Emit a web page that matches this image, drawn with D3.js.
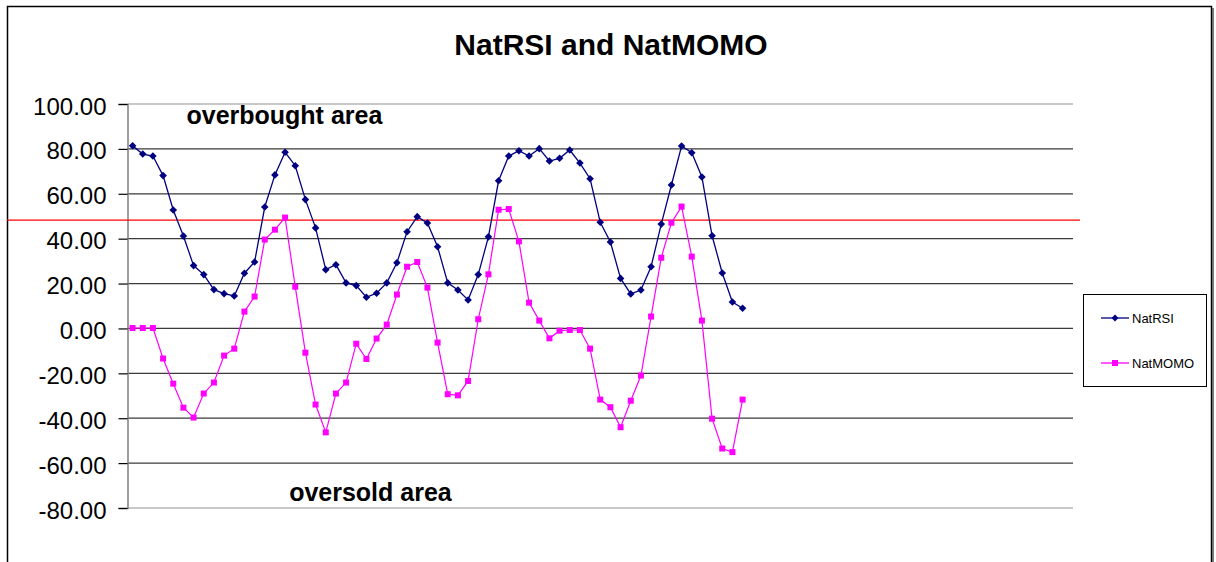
<!DOCTYPE html>
<html>
<head>
<meta charset="utf-8">
<script src="https://cdn.jsdelivr.net/npm/d3@7"></script>
<style>
  html, body { margin: 0; padding: 0; background: #fff; }
  svg { display: block; font-family: "Liberation Sans", Arial, sans-serif; }
</style>
</head>
<body>
<svg id="chart" width="1216" height="562"></svg>
<script>
// ---- data ----
const title = "NatRSI and NatMOMO";
const seriesNames = ["NatRSI", "NatMOMO"];
const categoryCount = 93; // category slots on the x axis (only first 61 filled)
const natRSI = [81.4, 77.7, 76.8, 68.1, 52.8, 41.2, 28.0, 24.0, 17.3, 15.5,
  14.5, 24.6, 29.6, 54.1, 68.4, 78.5, 72.5, 57.4, 44.8, 26.2,
  28.4, 20.3, 19.1, 13.9, 15.7, 20.3, 29.3, 43.1, 49.8, 47.0,
  36.4, 20.3, 17.1, 12.7, 24.0, 40.8, 65.8, 76.8, 79.2, 76.8,
  80.1, 74.6, 75.8, 79.5, 73.7, 66.7, 47.3, 38.5, 22.3, 15.4,
  17.1, 27.5, 46.5, 63.9, 81.3, 78.3, 67.5, 41.3, 24.7, 11.8, 9.0];
const natMOMO = [0.2, 0.2, 0.2, -13.4, -24.6, -35.3, -39.7, -29.0, -24.1, -12.1,
  -9.0, 7.5, 14.2, 39.6, 44.0, 49.4, 18.6, -10.8, -33.9, -46.3,
  -29.0, -24.1, -6.8, -13.6, -4.5, 1.7, 15.1, 27.5, 29.6, 18.2,
  -6.3, -29.3, -29.8, -23.4, 4.1, 24.1, 52.9, 53.2, 38.8, 11.5,
  3.5, -4.4, -1.0, -0.7, -0.7, -9.0, -31.7, -35.1, -44.0, -32.2,
  -21.0, 5.3, 31.5, 47.1, 54.3, 32.0, 3.5, -40.2, -53.5, -55.1, -31.7];
const yTicks = [100, 80, 60, 40, 20, 0, -20, -40, -60, -80];
const referenceLevel = 48.3;
const annotations = [
  { text: "overbought area", value: 91.1, cat: 5.8 },
  { text: "oversold area", value: -77.0, cat: 15.9 }
];

// ---- layout ----
const svg = d3.select("#chart");
const plot = { left: 127.5, right: 1073, top: 104, bottom: 508 };
const colors = { NatRSI: "#000080", NatMOMO: "#ff00ff" };

// outer chart border
svg.append("rect").attr("x", 7.5).attr("y", 6.5).attr("width", 1204).attr("height", 600)
  .attr("fill", "#fff").attr("stroke", "#000").attr("stroke-width", 1.5);
svg.append("line").attr("x1", 1213).attr("x2", 1213).attr("y1", 8).attr("y2", 562)
  .attr("stroke", "#555").attr("stroke-width", 1.5);

const x = d3.scaleBand().domain(d3.range(categoryCount)).range([plot.left, plot.right]);
const cx = i => x(i) + x.bandwidth() / 2;
const y = d3.scaleLinear().domain([-80, 100]).range([plot.bottom, plot.top]);

// gridlines
svg.append("g").selectAll("line").data(yTicks).join("line")
  .attr("x1", plot.left).attr("x2", plot.right)
  .attr("y1", d => y(d)).attr("y2", d => y(d))
  .attr("stroke", d => (d === 100 || d === -80) ? "#c8c8c8" : "#3a3a3a")
  .attr("stroke-width", d => (d === 100 || d === -80) ? 2 : 1.3);

// y axis
const fmt = d => d.toFixed(2);
const yAxis = d3.axisLeft(y).tickValues(yTicks).tickSize(9).tickFormat(fmt);
const ag = svg.append("g").attr("transform", `translate(${plot.left},0)`).call(yAxis);
ag.select(".domain").attr("stroke", "#808080").attr("stroke-width", 1.5);
ag.selectAll(".tick line").attr("stroke", "#000").attr("stroke-width", 1.2);
ag.selectAll(".tick text").attr("font-size", 24).attr("fill", "#000")
  .attr("font-family", "Liberation Sans, Arial, sans-serif")
  .attr("x", -21).attr("dy", "0.42em");

// reference line
svg.append("line").attr("x1", 7).attr("x2", 1080)
  .attr("y1", y(referenceLevel)).attr("y2", y(referenceLevel))
  .attr("stroke", "#ff0000").attr("stroke-width", 1.3);

// lines
const line = d3.line().x((d, i) => cx(i)).y(d => y(d));
svg.append("path").datum(natMOMO).attr("d", line).attr("fill", "none")
  .attr("stroke", colors.NatMOMO).attr("stroke-width", 1.2);
svg.append("path").datum(natRSI).attr("d", line).attr("fill", "none")
  .attr("stroke", colors.NatRSI).attr("stroke-width", 1.3);

// markers
const diamond = (px, py, r) => `M${px},${py - r}L${px + r},${py}L${px},${py + r}L${px - r},${py}Z`;
svg.append("g").selectAll("rect").data(natMOMO).join("rect")
  .attr("x", (d, i) => cx(i) - 3).attr("y", d => y(d) - 3)
  .attr("width", 6).attr("height", 6).attr("fill", colors.NatMOMO);
svg.append("g").selectAll("path").data(natRSI).join("path")
  .attr("d", (d, i) => diamond(cx(i), y(d), 3.8)).attr("fill", colors.NatRSI);

// title
svg.append("text").attr("x", 611).attr("y", 55).attr("text-anchor", "middle")
  .attr("font-size", 30).attr("font-weight", "bold").text(title);

// annotations
svg.append("g").selectAll("text").data(annotations).join("text")
  .attr("x", d => x(Math.floor(d.cat)) + x.bandwidth() * (d.cat % 1))
  .attr("y", d => y(d.value))
  .attr("font-size", 25).attr("font-weight", "bold").text(d => d.text);

// legend
const lg = svg.append("g");
lg.append("rect").attr("x", 1083.5).attr("y", 294.5).attr("width", 123).attr("height", 92)
  .attr("fill", "#fff").attr("stroke", "#000").attr("stroke-width", 1);
const items = lg.selectAll("g").data(seriesNames).join("g")
  .attr("transform", (d, i) => `translate(0,${318 + i * 45})`);
items.append("line").attr("x1", 1101).attr("x2", 1129).attr("y1", 0).attr("y2", 0)
  .attr("stroke", d => colors[d]).attr("stroke-width", 1.3);
items.each(function(d) {
  const g = d3.select(this);
  if (d === "NatRSI") g.append("path").attr("d", diamond(1115, 0, 3.5)).attr("fill", colors[d]);
  else g.append("rect").attr("x", 1112).attr("y", -3).attr("width", 6).attr("height", 6).attr("fill", colors[d]);
});
items.append("text").attr("x", 1132).attr("y", 0).attr("dy", "0.35em")
  .attr("font-size", 13).attr("fill", "#000").text(d => d);
</script>
</body>
</html>
